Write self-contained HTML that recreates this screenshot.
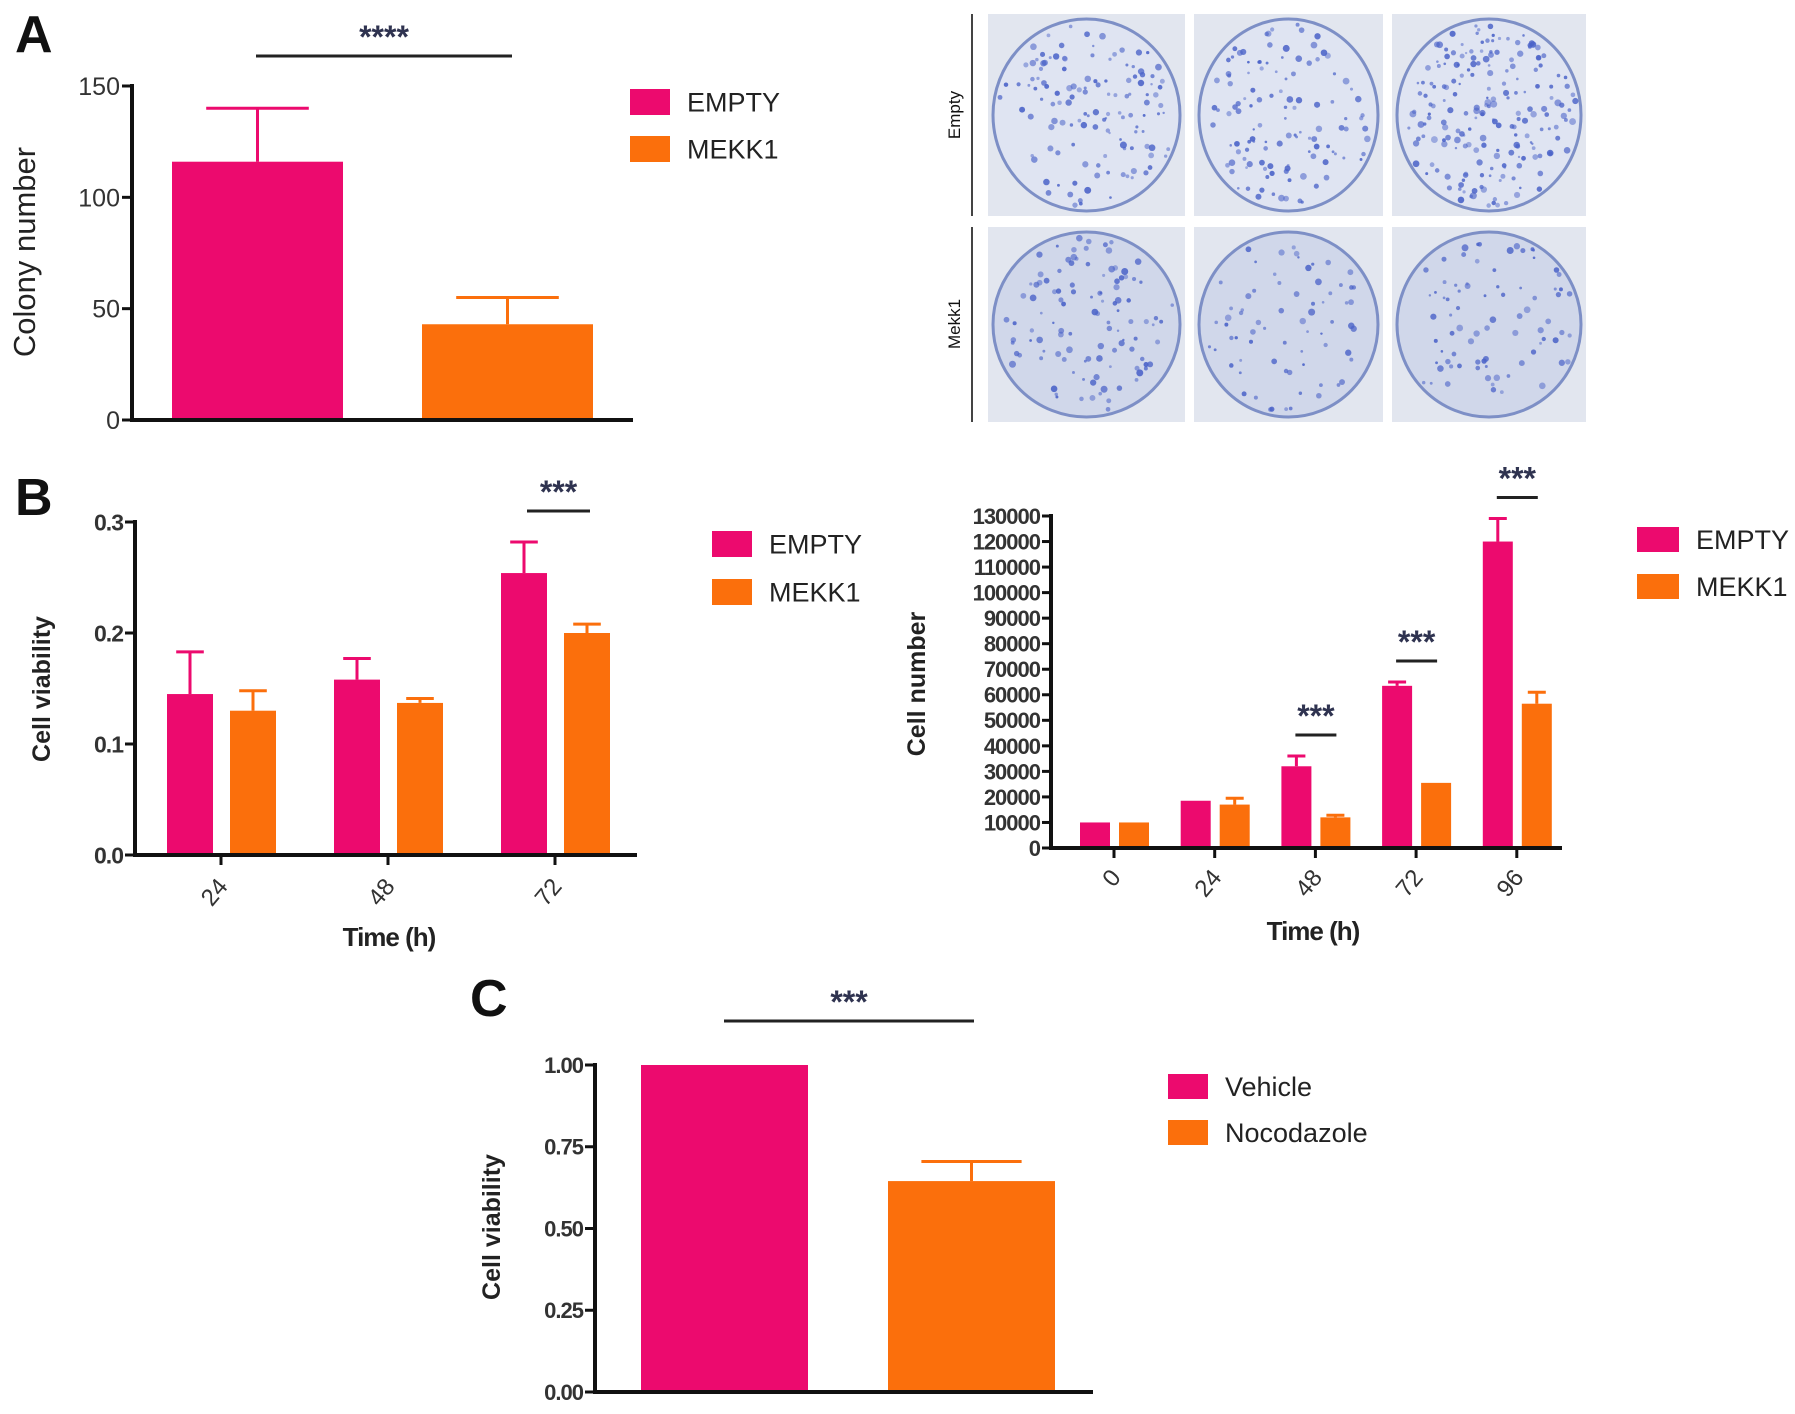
<!DOCTYPE html>
<html><head><meta charset="utf-8">
<style>
html,body{margin:0;padding:0;background:#fff;}
svg{display:block;font-family:"Liberation Sans",Arial,sans-serif;}
</style></head>
<body>
<svg id="fig" width="1795" height="1414" viewBox="0 0 1795 1414" xmlns="http://www.w3.org/2000/svg">
<text x="15" y="52" font-size="52" font-weight="bold" fill="#111">A</text>
<text x="15" y="515" font-size="52" font-weight="bold" fill="#111">B</text>
<text x="470" y="1016" font-size="52" font-weight="bold" fill="#111">C</text>
<g id="photos"></g>
<g id="chartA"></g>
<g id="chartB1"></g>
<g id="chartB2"></g>
<g id="chartC"></g>
</svg>
<script>
// ---- Panel A data
const aCategories = ["EMPTY", "MEKK1"];
const aValues = [116, 43];
const aErrors = [140, 55];
const aTicks = [0, 50, 100, 150];
// ---- Panel B left data
const b1Categories = ["24", "48", "72"];
const b1Empty = [0.145, 0.158, 0.254];
const b1EmptyErr = [0.183, 0.177, 0.282];
const b1Mekk = [0.130, 0.137, 0.200];
const b1MekkErr = [0.148, 0.141, 0.208];
const b1Ticks = ["0.0", "0.1", "0.2", "0.3"];
// ---- Panel B right data
const b2Categories = ["0", "24", "48", "72", "96"];
const b2Empty = [10000, 18500, 32000, 63500, 120000];
const b2EmptyErr = [10000, 18500, 36000, 65000, 129000];
const b2Mekk = [10000, 17000, 12000, 25500, 56500];
const b2MekkErr = [10000, 19500, 12800, 25500, 61000];
const b2Ticks = [0,10000,20000,30000,40000,50000,60000,70000,80000,90000,100000,110000,120000,130000];
const b2Sig = ["48", "72", "96"];
// ---- Panel C data
const cCategories = ["Vehicle", "Nocodazole"];
const cValues = [1.0, 0.645];
const cErrors = [1.0, 0.705];
const cTicks = ["0.00", "0.25", "0.50", "0.75", "1.00"];

const NS = "http://www.w3.org/2000/svg";
const PINK = "#ec0a6e", ORANGE = "#fb6f0c", STAR = "#2f3350";
function mk(parent, tag, attrs, text) {
  const e = document.createElementNS(NS, tag);
  for (const k in attrs) e.setAttribute(k, attrs[k]);
  if (text !== undefined) e.textContent = text;
  parent.appendChild(e);
  return e;
}
function bar(g, x, w, y0, yv, ye, color, name) {
  const r = mk(g, "rect", {x: x, y: yv, width: w, height: y0 - yv, fill: color});
  
  
  if (ye < yv - 0.5) {
    const l = mk(g, "path", {d: `M${x + w/2} ${yv} V${ye} M${x + w/2 - w*0.3} ${ye} H${x + w/2 + w*0.3}`, stroke: color, "stroke-width": 3, fill: "none"});
    
    
  }
}
function legend(g, x, y, labels, size, gap, sw, sh) {
  labels.forEach((lab, i) => {
    const s = mk(g, "rect", {x: x, y: y + i*gap, width: sw, height: sh, fill: i ? ORANGE : PINK});
    
    
    const t = mk(g, "text", {x: x + sw + 17, y: y + i*gap + sh/2 + size*0.36, "font-size": size, fill: "#222"}, lab);
    
    
  });
}
function sig(g, x1, x2, y, stars, size, name) {
  const l = mk(g, "line", {x1: x1, x2: x2, y1: y, y2: y, stroke: "#222", "stroke-width": 3});
  
  
  const t = mk(g, "text", {x: (x1 + x2)/2, y: y - 8, "font-size": size, "font-weight": "bold", fill: STAR, "text-anchor": "middle"}, stars);
  
  
}
function yAxis(g, x, yTop, y0, x2, tickVals, ys, fs, bold, tickLen) {
  mk(g, "path", {d: `M${x} ${yTop - 2} V${y0} H${x2}`, stroke: "#111", "stroke-width": 4, fill: "none"});
  tickVals.forEach(v => {
    const y = ys(parseFloat(v));
    mk(g, "line", {x1: x - tickLen, x2: x, y1: y, y2: y, stroke: "#111", "stroke-width": 3});
    const t = mk(g, "text", {x: x - tickLen - 2, y: y + fs*0.36, "font-size": fs, "font-weight": bold ? "bold" : "normal", "text-anchor": "end", fill: "#333", "letter-spacing": bold ? "-1" : "0"}, String(v));
    
    
  });
}
function yTitle(g, x, y, text, fs, bold) {
  const t = mk(g, "text", {x: x, y: y, "font-size": fs, "font-weight": bold ? "bold" : "normal", "text-anchor": "middle", fill: "#222", transform: `rotate(-90 ${x} ${y})`}, text);
  
  
}
function xTitle(g, x, y, text) {
  const t = mk(g, "text", {x: x, y: y, "font-size": 26, "font-weight": "bold", "text-anchor": "middle", fill: "#222", "letter-spacing": "-1"}, text);
  
  
}

// ---- Panel A
(function () {
  const g = document.getElementById("chartA");
  const x0 = 132, y0 = 420, yT = 86, max = 150;
  const ys = v => y0 - (y0 - yT) * v / max;
  const lefts = [172, 422], w = 171;
  aCategories.forEach((c, i) => bar(g, lefts[i], w, y0, ys(aValues[i]), ys(aErrors[i]), i ? ORANGE : PINK, 'bar-' + c.toLowerCase()));
  yAxis(g, x0, yT, y0, 633, aTicks, ys, 25, false, 10);
  yTitle(g, 35, 252, "Colony number", 31, false);
  sig(g, 256, 512, 56, "****", 32, 'sig-a');
  legend(g, 630, 89, aCategories, 27, 47, 40, 26);
})();

// ---- Panel B left
(function () {
  const g = document.getElementById("chartB1");
  const x0 = 135, y0 = 855, yT = 522, max = 0.3;
  const ys = v => y0 - (y0 - yT) * v / max;
  const centers = [221, 388, 555], w = 46;
  b1Categories.forEach((c, i) => {
    bar(g, centers[i] - 54, w, y0, ys(b1Empty[i]), ys(b1EmptyErr[i]), PINK, 'bar-empty-' + c);
    bar(g, centers[i] + 9, w, y0, ys(b1Mekk[i]), ys(b1MekkErr[i]), ORANGE, 'bar-mekk1-' + c);
    mk(g, "line", {x1: centers[i], x2: centers[i], y1: y0, y2: y0 + 10, stroke: "#111", "stroke-width": 3});
    const t = mk(g, "text", {x: centers[i] + 8, y: y0 + 32, "font-size": 24, "text-anchor": "end", fill: "#333", transform: `rotate(-50 ${centers[i] + 8} ${y0 + 32})`}, c);
    
    
  });
  yAxis(g, x0, yT, y0, 637, b1Ticks, ys, 23, true, 10);
  yTitle(g, 50, 689, "Cell viability", 25, true);
  xTitle(g, 389, 946, "Time (h)");
  sig(g, 527, 590, 511, "***", 32, 'sig-b1-72');
  legend(g, 712, 531, ["EMPTY", "MEKK1"], 27, 48, 40, 26);
})();

// ---- Panel B right
(function () {
  const g = document.getElementById("chartB2");
  const x0 = 1051, y0 = 848, yT = 516, max = 130000;
  const ys = v => y0 - (y0 - yT) * v / max;
  const c0 = 1114, step = 100.7, w = 30;
  b2Categories.forEach((c, i) => {
    const cx = c0 + i * step;
    bar(g, cx - 34, w, y0, ys(b2Empty[i]), ys(b2EmptyErr[i]), PINK, 'bar-empty-' + c);
    bar(g, cx + 5, w, y0, ys(b2Mekk[i]), ys(b2MekkErr[i]), ORANGE, 'bar-mekk1-' + c);
    mk(g, "line", {x1: cx, x2: cx, y1: y0, y2: y0 + 10, stroke: "#111", "stroke-width": 3});
    const t = mk(g, "text", {x: cx + 8, y: y0 + 30, "font-size": 24, "text-anchor": "end", fill: "#333", transform: `rotate(-50 ${cx + 8} ${y0 + 30})`}, c);
    
    
    if (b2Sig.indexOf(c) >= 0) {
      const top = ys(b2EmptyErr[i]);
      sig(g, cx - 20, cx + 21, top - 21, "***", 32, 'sig-b2-' + c);
    }
  });
  yAxis(g, x0, yT, y0, 1562, b2Ticks, ys, 22, true, 9);
  yTitle(g, 925, 684, "Cell number", 25, true);
  xTitle(g, 1313, 940, "Time (h)");
  legend(g, 1637, 527, ["EMPTY", "MEKK1"], 27, 47, 42, 25);
})();

// ---- Panel C
(function () {
  const g = document.getElementById("chartC");
  const x0 = 595, y0 = 1392, yT = 1065, max = 1.0;
  const ys = v => y0 - (y0 - yT) * v / max;
  const lefts = [641, 888], w = 167;
  cCategories.forEach((c, i) => bar(g, lefts[i], w, y0, ys(cValues[i]), ys(cErrors[i]), i ? ORANGE : PINK, 'bar-' + c.toLowerCase()));
  yAxis(g, x0, yT, y0, 1093, cTicks, ys, 22, true, 10);
  yTitle(g, 500, 1227, "Cell viability", 25, true);
  sig(g, 724, 974, 1021, "***", 32, 'sig-c');
  legend(g, 1168, 1074, cCategories, 27, 46, 40, 25);
})();

// ---- Colony photos (decorative)
(function () {
  const g = document.getElementById("photos");
  const xs = [[988, 1185], [1194, 1383], [1392, 1586]];
  const rows = [[14, 216], [227, 422]];
  const dens = [[130, 120, 200], [110, 70, 80]];
  let s = 7;
  const rnd = () => { s = (s * 1103515245 + 12345) % 2147483648; return s / 2147483648; };
  rows.forEach((r, ri) => {
    xs.forEach((c, ci) => {
      const pg = mk(g, "g", {});
      
      
      mk(pg, "rect", {x: c[0], y: r[0], width: c[1] - c[0], height: r[1] - r[0], fill: "#e2e6ef"});
      const cx = (c[0] + c[1]) / 2, cy = (r[0] + r[1]) / 2, rx = (c[1] - c[0]) / 2 - 5, ry = (r[1] - r[0]) / 2 - 5;
      mk(pg, "ellipse", {cx: cx, cy: cy, rx: rx, ry: ry, fill: ri ? "#d0d7ea" : "#dfe4f2", stroke: "#7d8fc6", "stroke-width": 3});
      for (let k = 0; k < dens[ri][ci]; k++) {
        const a = rnd() * 6.283, d = Math.sqrt(rnd()) * 0.95;
        mk(pg, "circle", {cx: cx + Math.cos(a) * d * rx, cy: cy + Math.sin(a) * d * ry, r: 1.2 + rnd() * 2.3, fill: "#4a62c8", opacity: 0.45 + rnd() * 0.45});
      }
    });
  });
  mk(g, "line", {x1: 972, x2: 972, y1: 14, y2: 216, stroke: "#444", "stroke-width": 2});
  mk(g, "line", {x1: 972, x2: 972, y1: 227, y2: 422, stroke: "#444", "stroke-width": 2});
  const t1 = mk(g, "text", {x: 960, y: 115, "font-size": 17, "text-anchor": "middle", fill: "#111", transform: "rotate(-90 960 115)"}, "Empty");
  
  
  const t2 = mk(g, "text", {x: 960, y: 324, "font-size": 17, "text-anchor": "middle", fill: "#111", transform: "rotate(-90 960 324)"}, "Mekk1");
  
  
})();
</script>
</body></html>
